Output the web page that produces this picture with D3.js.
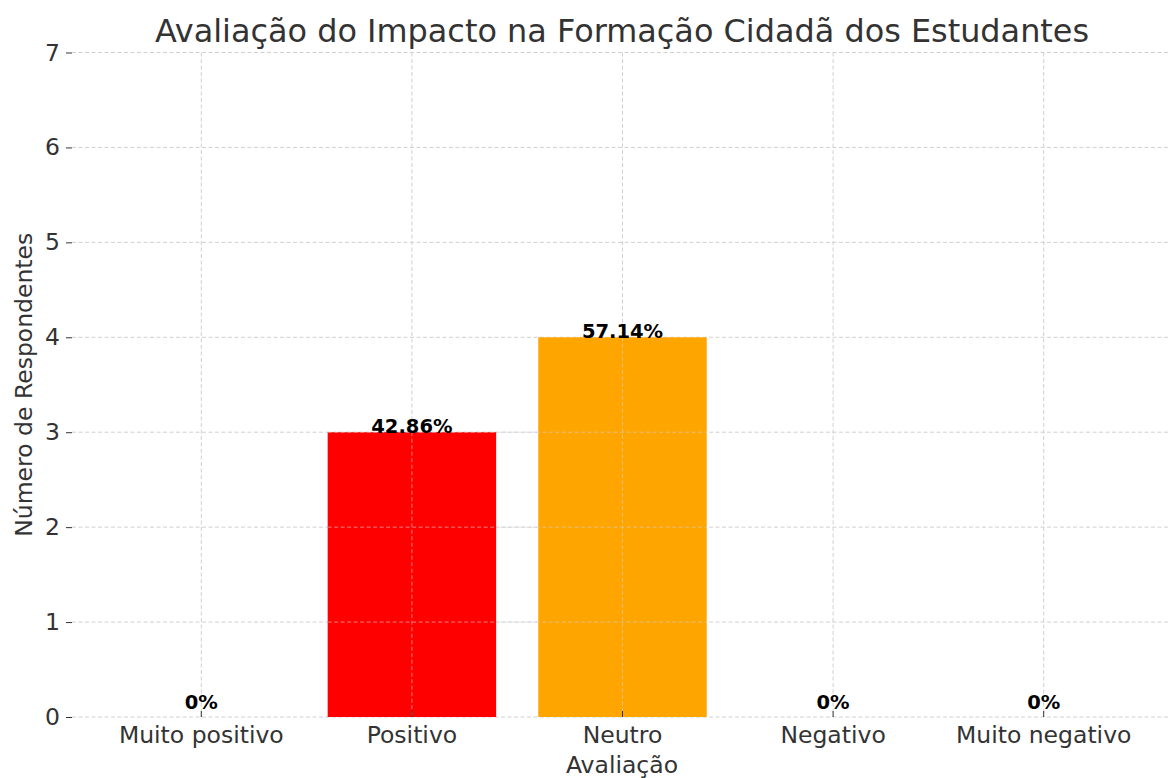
<!DOCTYPE html>
<html>
<head>
<meta charset="utf-8">
<script src="https://cdn.jsdelivr.net/npm/d3@7"></script>
<style>
  html, body { margin: 0; padding: 0; background: #fff; }
  svg { display: block; font-family: "DejaVu Sans", sans-serif; }
</style>
</head>
<body>
<svg id="chart" width="1168" height="778"></svg>
<script>
const categories = ["Muito positivo", "Positivo", "Neutro", "Negativo", "Muito negativo"];
const counts = [0, 3, 4, 0, 0];
const percentLabels = ["0%", "42.86%", "57.14%", "0%", "0%"];
const barColors = ["#008000", "#ff0000", "#ffa500", "#0000ff", "#800080"];
const yTicks = [0, 1, 2, 3, 4, 5, 6, 7];
const titleText = "Avaliação do Impacto na Formação Cidadã dos Estudantes";
const xLabelText = "Avaliação";
const yLabelText = "Número de Respondentes";

(function () {
const svg = d3.select("#chart");
const pLeft = 72, pRight = 1172, pTop = 52.5, pBottom = 717;

const x = d3.scaleBand().domain(categories).range([96, 1149]).paddingInner(0.2).paddingOuter(0.1);
const y = d3.scaleLinear().domain([0, 7]).range([pBottom, pTop]);

const gridStyle = sel => sel.attr("stroke", "#d0d0d0").attr("stroke-width", 1).attr("stroke-dasharray", "4,2.5");

const grid = svg.append("g");
grid.selectAll("line.h").data(yTicks).join("line")
  .attr("x1", pLeft).attr("x2", pRight)
  .attr("y1", d => y(d)).attr("y2", d => y(d))
  .call(gridStyle);
grid.selectAll("line.v").data(categories).join("line")
  .attr("x1", d => x(d) + x.bandwidth() / 2).attr("x2", d => x(d) + x.bandwidth() / 2)
  .attr("y1", pTop).attr("y2", pBottom)
  .call(gridStyle);

// bars
svg.append("g").selectAll("rect").data(categories).join("rect")
  .attr("x", d => x(d))
  .attr("width", x.bandwidth())
  .attr("y", (d, i) => y(counts[i]))
  .attr("height", (d, i) => pBottom - y(counts[i]))
  .attr("fill", (d, i) => barColors[i]);

// grid lines faintly visible over bars
const over = svg.append("g").attr("opacity", 0.6);
over.selectAll("line.v").data(categories.filter((d, i) => counts[i] > 0)).join("line")
  .attr("x1", d => x(d) + x.bandwidth() / 2).attr("x2", d => x(d) + x.bandwidth() / 2)
  .attr("y1", d => y(counts[categories.indexOf(d)])).attr("y2", pBottom)
  .call(gridStyle);
over.selectAll("line.h").data(yTicks.filter(t => t > 0 && t < 4)).join("line")
  .attr("x1", d => x(categories[1])).attr("x2", d => x(categories[2]) + x.bandwidth())
  .attr("y1", d => y(d)).attr("y2", d => y(d))
  .call(gridStyle);

// bar labels
svg.append("g").selectAll("text").data(categories).join("text")
  .attr("x", d => x(d) + x.bandwidth() / 2)
  .attr("y", (d, i) => y(counts[i]) + (counts[i] > 0 ? 1 : -8))
  .attr("text-anchor", "middle")
  .attr("font-size", "19.5px").attr("font-weight", "bold").attr("fill", "#000")
  .text((d, i) => percentLabels[i]);

// y axis
const yAxis = d3.axisLeft(y).tickValues(yTicks).tickSize(6).tickPadding(6).tickFormat(d3.format("d"));
const ya = svg.append("g").attr("transform", `translate(${pLeft},0)`).call(yAxis);
ya.select(".domain").remove();
ya.selectAll(".tick line").attr("stroke", "#333");
ya.selectAll(".tick text").attr("font-size", "23.5px").attr("fill", "#333").attr("font-family", "DejaVu Sans");

// x axis (ticks pointing inward)
const xAxis = d3.axisBottom(x).tickSize(-6).tickPadding(0);
const xa = svg.append("g").attr("transform", `translate(0,${pBottom})`).call(xAxis);
xa.select(".domain").remove();
xa.selectAll(".tick line").attr("stroke", "#333");
xa.selectAll(".tick text").attr("font-size", "23.5px").attr("fill", "#333").attr("font-family", "DejaVu Sans")
  .attr("dy", null).attr("y", 26);

// title
svg.append("text").attr("x", (pLeft + pRight) / 2).attr("y", 42)
  .attr("text-anchor", "middle").attr("font-size", "31.9px").attr("fill", "#333")
  .text(titleText);

// axis labels
svg.append("text").attr("x", (pLeft + pRight) / 2).attr("y", 773)
  .attr("text-anchor", "middle").attr("font-size", "23.5px").attr("fill", "#333")
  .text(xLabelText);
svg.append("text").attr("transform", `translate(32,${(pTop + pBottom) / 2}) rotate(-90)`)
  .attr("text-anchor", "middle").attr("font-size", "23.5px").attr("fill", "#333")
  .text(yLabelText);
})();
</script>
</body>
</html>
